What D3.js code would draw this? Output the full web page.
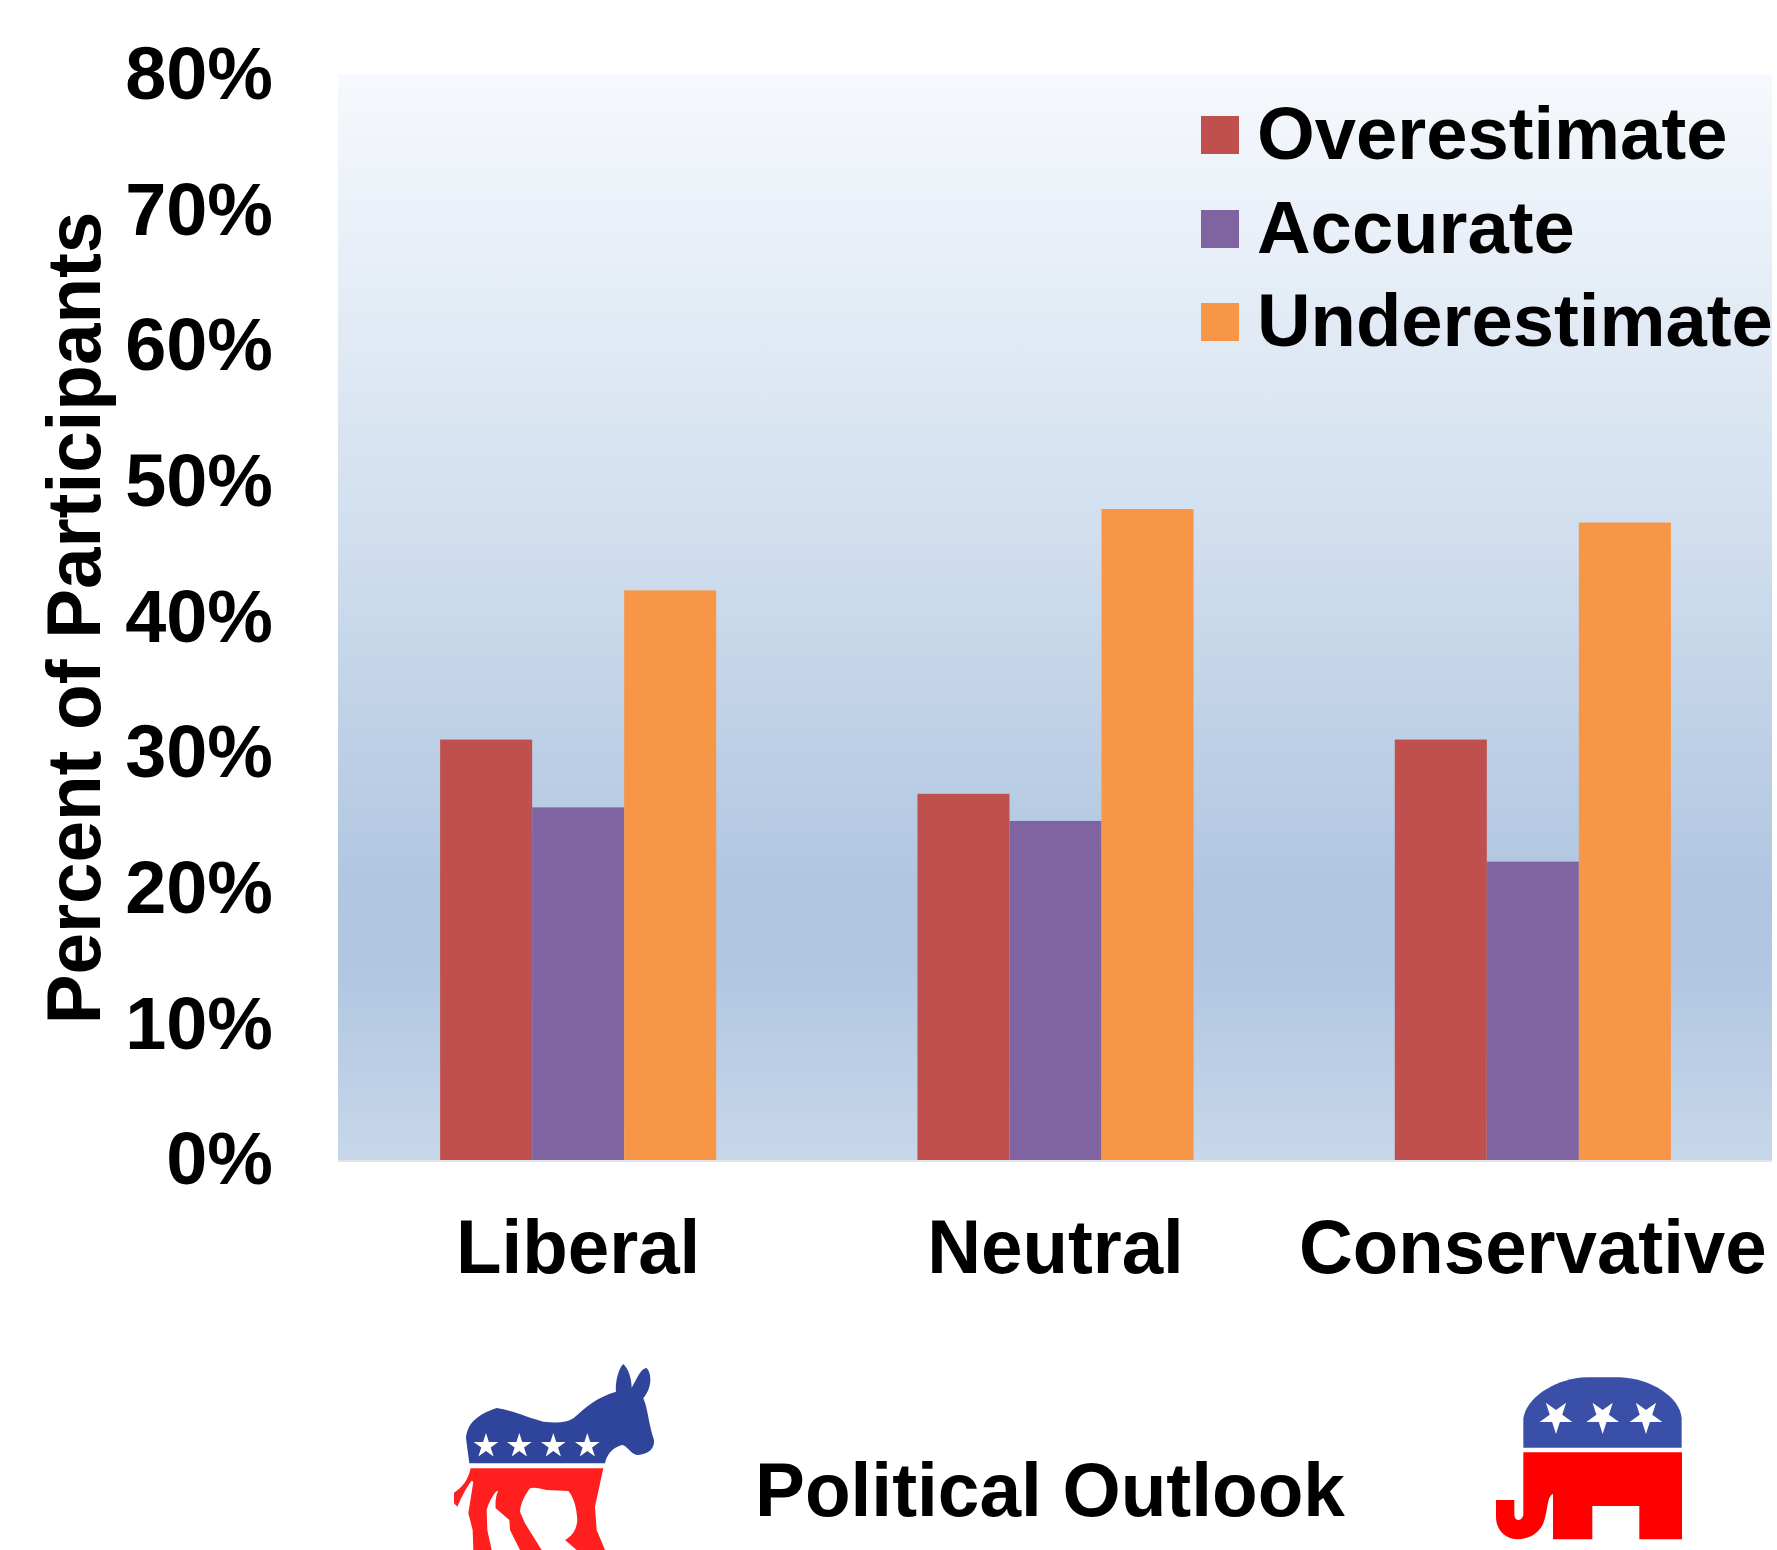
<!DOCTYPE html>
<html>
<head>
<meta charset="utf-8">
<script src="https://cdn.jsdelivr.net/npm/d3@7"></script>
<style>
html,body{margin:0;padding:0;background:#fff}
svg{display:block}
text{font-family:"Liberation Sans",Arial,sans-serif;font-weight:700;fill:#000}
</style>
</head>
<body>
<div id="chart"></div>
<script>
const categories = ["Liberal", "Neutral", "Conservative"];
const seriesNames = ["Overestimate", "Accurate", "Underestimate"];
const overestimate = [31, 27, 31];
const accurate = [26, 25, 22];
const underestimate = [42, 48, 47];
const yTicks = [0, 10, 20, 30, 40, 50, 60, 70, 80];
const colors = ["#c0504d", "#8064a2", "#f79646"];

const W = 1777, H = 1550;
const plot = {l: 338, r: 1772, t: 74, b: 1161};
const svg = d3.select("#chart").append("svg").attr("width", W).attr("height", H);

const grad = svg.append("defs").append("linearGradient")
  .attr("id", "bg").attr("x1", 0).attr("x2", 0).attr("y1", 0).attr("y2", 1);
[[0, "#f6f9fd"], [0.4, "#d3e0ef"], [0.76, "#afc5e0"], [0.82, "#b0c6e1"], [1, "#c8d7ea"]]
  .forEach(([o, c]) => grad.append("stop").attr("offset", o).attr("stop-color", c));

svg.append("rect").attr("x", plot.l).attr("y", plot.t)
  .attr("width", plot.r - plot.l).attr("height", plot.b - plot.t).attr("fill", "url(#bg)");
svg.append("rect").attr("x", plot.l).attr("y", plot.b - 1)
  .attr("width", plot.r - plot.l).attr("height", 2).attr("fill", "#dfe3e8");

const x = d3.scaleBand().domain(categories).range([339.5, 1771.5])
  .paddingInner(0.4216).paddingOuter(0.2108);
const xSub = d3.scaleBand().domain(seriesNames).range([0, x.bandwidth()]);
const y = d3.scaleLinear().domain([0, 80]).range([plot.b - 1, plot.t + 1]);

const series = [overestimate, accurate, underestimate];
svg.append("g").selectAll("g").data(series).join("g")
  .attr("fill", (d, i) => colors[i])
  .each(function (vals, i) {
    d3.select(this).selectAll("rect").data(vals).join("rect")
      .attr("x", (d, j) => x(categories[j]) + xSub(seriesNames[i]))
      .attr("width", xSub.bandwidth())
      .attr("y", d => y(d))
      .attr("height", d => y(0) - y(d));
  });

// Y axis
const yAxis = svg.append("g").attr("transform", "translate(273,-3)")
  .call(d3.axisLeft(y).tickValues(yTicks).tickSize(0).tickFormat(d => d + "%"));
yAxis.select(".domain").remove();
yAxis.selectAll("text").attr("x", 0).attr("dy", "0.355em")
  .style("font-size", "75px").attr("transform", "scale(0.985,1)");

// X axis
const xAxis = svg.append("g").attr("transform", "translate(0,1214)")
  .call(d3.axisBottom(x).tickSize(0));
xAxis.select(".domain").remove();
xAxis.selectAll("text").attr("y", 0).attr("dy", "59px")
  .style("font-size", "76px").attr("transform", "scale(0.98,1)");

// Axis titles
svg.append("text").attr("transform", "translate(100,618) rotate(-90) scale(0.982,1)")
  .attr("text-anchor", "middle").style("font-size", "76px").text("Percent of Participants");
svg.append("text").attr("transform", "translate(1050,1516) scale(0.984,1)")
  .attr("text-anchor", "middle").style("font-size", "76px").text("Political Outlook");

// Legend
const legendY = d3.scaleOrdinal().domain(seriesNames).range([135, 229, 322]);
const lg = svg.append("g").selectAll("g").data(seriesNames).join("g")
  .attr("transform", d => `translate(1201,${legendY(d)})`);
lg.append("rect").attr("y", -19).attr("width", 38).attr("height", 38)
  .attr("fill", (d, i) => colors[i]);
lg.append("text").attr("transform", "translate(56,24) scale(0.99,1)")
  .style("font-size", "75px").text(d => d);

// Party logos
const star = d3.symbol().type(d3.symbolStar);
const donkey = svg.append("g").attr("transform", "translate(430,1340) scale(0.3333)");
donkey.append("path").attr("fill", "#2f459c").attr("d",
  "M118,370 L108,295 C112,250 140,225 200,204 C250,212 300,235 340,245 C380,250 410,248 430,235 C470,200 500,172 558,155 C555,130 565,85 580,72 C595,85 605,115 605,143 C615,130 630,85 650,84 C665,100 668,140 640,175 C655,210 655,250 672,300 C675,330 650,345 620,345 C600,340 590,315 575,315 C545,325 530,345 525,370 Z");
donkey.append("path").attr("fill", "#ff1f1f").attr("d",
  "M122,385 L520,385 L495,500 L500,570 L525,630 L440,630 L405,600 C425,590 440,570 442,540 C440,500 430,470 415,453 L350,450 C330,445 310,440 300,445 C285,465 272,490 270,515 L285,550 L335,630 L270,630 L240,570 L238,540 L197,505 C195,480 200,460 205,452 C195,450 175,490 170,510 L172,570 L185,630 L130,630 L128,570 L115,520 L130,425 L125,422 C110,440 95,470 82,500 L72,490 L72,458 C95,445 115,420 122,385 Z");
[168, 268, 370, 472].forEach(cx => donkey.append("path")
  .attr("transform", `translate(${cx},318)`).attr("fill", "#fff")
  .attr("d", star.size(1700)()));

const elephant = svg.append("g").attr("transform", "translate(1470,1350) scale(0.3333)");
elephant.append("path").attr("fill", "#3a50a8").attr("d",
  "M160,293 L160,205 C170,140 260,85 350,82 L450,82 C540,85 630,140 635,205 L635,293 Z");
elephant.append("path").attr("fill", "#ff0000").attr("d",
  "M160,307 L636,307 L636,568 L508,568 L508,468 L367,468 L367,568 L249,568 L249,432 C230,440 235,480 220,520 C205,555 170,568 140,568 C100,565 78,535 78,500 L78,450 L133,450 L133,495 C135,515 155,515 160,495 Z");
[258, 398, 528].forEach(cx => elephant.append("path")
  .attr("transform", `translate(${cx},200) rotate(180)`).attr("fill", "#fff")
  .attr("d", star.size(3000)()));
</script>
</body>
</html>
